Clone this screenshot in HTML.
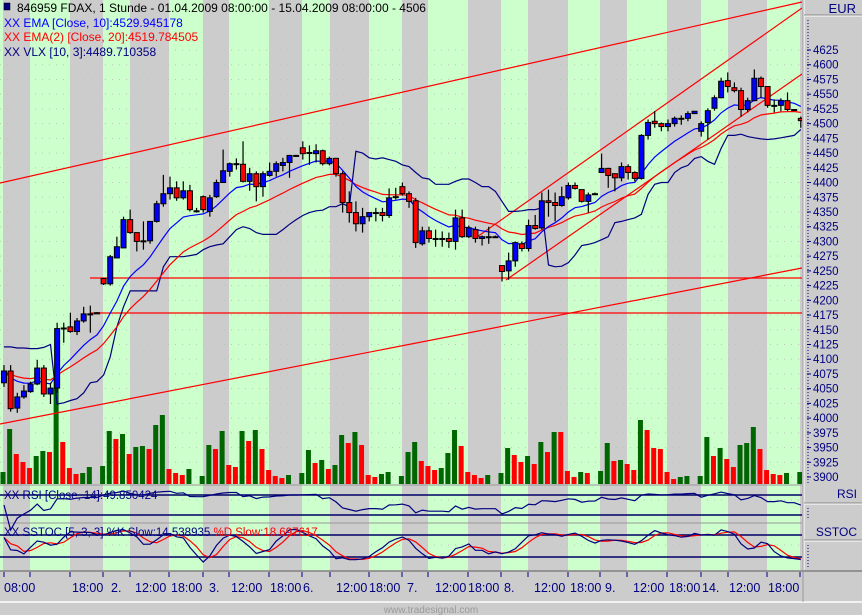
<!DOCTYPE html>
<html><head><meta charset="utf-8">
<style>
html,body{margin:0;padding:0;background:#cccccc;}
svg{display:block;font-family:"Liberation Sans",sans-serif;}
</style></head>
<body>
<svg id="chart" width="862" height="615" xmlns="http://www.w3.org/2000/svg">
<rect x="0" y="0" width="862" height="615" fill="#cccccc"/>
<g id="stripes"></g>
<g id="grid"></g>
<g id="volume"></g>
<g id="lines"></g>
<g id="indic"></g>
<g id="candles"></g>
<g id="panels"></g>
<g id="axis"></g>
<g font-size="12">
 <rect x="4" y="3" width="6" height="7" fill="#000080" stroke="#000" stroke-width="0.5"/>
 <text x="17" y="12" fill="#000">846959  FDAX, 1 Stunde - 01.04.2009 08:00:00 - 15.04.2009 08:00:00 - 4506</text>
 <text x="4" y="27" fill="#0000ff">XX EMA [Close, 10]:4529.945178</text>
 <text x="4" y="41" fill="#ff0000">XX EMA(2) [Close, 20]:4519.784505</text>
 <text x="4" y="56" fill="#000080">XX VLX [10, 3]:4489.710358</text>
</g>
</svg>
<script>
const opens=[4060,4080,4017,4036,4045,4058,4085,4041,4051,4153,4155,4147,4165,4177,4179,4237,4228,4272,4289,4337,4315,4301,4301,4334,4364,4381,4391,4374,4386,4352,4376,4351,4376,4400,4419,4432,4431,4402,4415,4393,4412,4419,4429,4434,4446,4459,4451,4449,4454,4432,4441,4415,4366,4349,4330,4342,4349,4349,4344,4376,4393,4381,4369,4296,4318,4305,4305,4305,4300,4340,4308,4320,4305,4308,4308,4259,4250,4267,4296,4288,4327,4323,4369,4366,4361,4374,4395,4388,4368,4381,4417,4424,4415,4408,4427,4417,4407,4480,4504,4500,4495,4500,4509,4509,4517,4487,4502,4526,4544,4573,4561,4556,4524,4539,4577,4563,4531,4531,4539,4524,4509];
const highs=[4090,4090,4043,4056,4062,4099,4090,4060,4162,4162,4179,4170,4189,4191,4180,4238,4277,4308,4342,4354,4315,4334,4334,4369,4413,4410,4402,4402,4396,4357,4378,4379,4405,4456,4434,4441,4470,4425,4419,4419,4434,4436,4442,4447,4447,4470,4463,4465,4456,4444,4442,4419,4385,4368,4357,4349,4357,4357,4390,4391,4400,4385,4374,4325,4325,4320,4317,4315,4354,4354,4327,4325,4310,4325,4310,4259,4281,4300,4300,4337,4345,4383,4388,4383,4393,4400,4400,4388,4383,4383,4449,4425,4415,4434,4431,4419,4482,4507,4521,4502,4507,4512,4514,4521,4521,4504,4526,4548,4578,4587,4570,4561,4544,4592,4580,4563,4541,4543,4553,4524,4512];
const lows=[4053,4011,4009,4033,4043,4056,4036,4024,4043,4128,4145,4141,4162,4145,4177,4226,4225,4272,4289,4313,4283,4286,4296,4332,4359,4371,4369,4371,4351,4349,4349,4342,4374,4400,4410,4422,4400,4386,4368,4376,4410,4410,4419,4408,4444,4439,4430,4434,4429,4429,4410,4349,4332,4317,4315,4334,4334,4334,4340,4371,4378,4357,4289,4293,4298,4291,4291,4289,4286,4306,4306,4298,4293,4296,4306,4232,4235,4257,4283,4283,4320,4320,4342,4334,4359,4371,4388,4366,4349,4379,4417,4391,4385,4402,4405,4402,4405,4473,4493,4487,4487,4495,4498,4504,4517,4478,4473,4522,4543,4553,4553,4512,4519,4538,4544,4527,4519,4521,4521,4524,4493];
const closes=[4080,4016,4036,4046,4058,4085,4041,4051,4152,4153,4147,4165,4177,4177,4177,4228,4274,4291,4337,4315,4300,4301,4334,4364,4381,4391,4374,4386,4354,4352,4354,4374,4400,4420,4432,4432,4402,4415,4393,4415,4419,4432,4434,4446,4446,4449,4451,4454,4432,4441,4415,4366,4349,4330,4342,4349,4349,4344,4374,4376,4381,4368,4298,4318,4305,4305,4305,4300,4340,4308,4323,4305,4308,4308,4308,4249,4267,4298,4288,4327,4322,4369,4366,4361,4376,4395,4390,4368,4379,4381,4424,4412,4408,4427,4417,4407,4480,4502,4500,4495,4500,4509,4509,4517,4521,4500,4522,4544,4572,4563,4556,4524,4539,4577,4563,4531,4531,4539,4524,4524,4505];
const vlx=[4121,4121,4119,4119,4118,4118,4120,4125,4024,4026,4030,4033,4043,4060,4062,4073,4104,4155,4189,4216,4216,4216,4216,4216,4257,4274,4274,4274,4276,4278,4286,4291,4294,4296,4308,4320,4325,4322,4315,4312,4312,4312,4320,4329,4337,4344,4349,4352,4353,4359,4359,4364,4359,4453,4450,4442,4440,4442,4439,4436,4430,4427,4417,4408,4406,4397,4397,4397,4402,4406,4406,4400,4393,4393,4385,4368,4351,4351,4352,4354,4354,4357,4260,4257,4258,4264,4277,4293,4295,4298,4303,4308,4332,4334,4337,4340,4346,4380,4397,4400,4400,4417,4425,4429,4441,4444,4436,4431,4458,4480,4480,4482,4478,4476,4474,4473,4474,4476,4478,4480,4490];
const volumes=[12,55,30,22,16,28,33,32,104,42,16,10,11,17,0,18,53,45,50,30,37,38,35,59,69,15,11,9,15,0,8,39,35,53,19,17,53,43,54,35,14,8,6,9,0,11,34,21,24,15,19,49,41,52,39,9,7,10,12,0,8,32,42,23,18,14,16,31,54,38,12,9,6,9,0,11,36,29,22,28,20,42,32,52,52,13,7,12,11,0,13,41,23,24,20,14,64,54,36,35,12,5,7,8,0,8,47,28,36,25,17,39,41,57,35,14,10,9,11,0,12];
const volUp=[1,1,0,0,0,1,1,0,1,0,0,0,1,1,1,1,1,0,1,0,1,1,0,1,1,0,0,0,1,1,1,1,0,1,0,0,1,0,1,0,0,0,0,1,1,1,1,0,1,0,1,1,0,1,0,0,0,1,1,1,1,1,1,0,0,0,1,1,1,0,0,0,0,1,1,1,1,0,0,1,0,1,0,1,0,0,0,1,0,1,1,1,0,1,0,0,1,0,0,0,0,0,1,1,1,1,1,0,1,0,0,1,1,1,0,0,0,0,1,1,1];
const priceTicks=[4625,4600,4575,4550,4525,4500,4475,4450,4425,4400,4375,4350,4325,4300,4275,4250,4225,4200,4175,4150,4125,4100,4075,4050,4025,4000,3975,3950,3925,3900];
const timeLabels=["08:00","18:00","2.","12:00","18:00","3.","12:00","18:00","6.","12:00","18:00","7.","12:00","18:00","8.","12:00","18:00","9.","12:00","18:00","14.","12:00","18:00"];
const timeLabelPos=[4,72,111,135,171,209,231,270,303,336,369,407,435,468,504,534,570,605,633,669,702,729,768];
const stripeEdges=[0,3,30,70,103,130,169,203,229,269,302,330,369,402,428,468,501,528,568,600,627,667,701,728,767,800,802];

const NS="http://www.w3.org/2000/svg";
function mk(tag,attrs,parent){const e=document.createElementNS(NS,tag);for(const k in attrs)e.setAttribute(k,attrs[k]);parent.appendChild(e);return e;}
const PLOT_R=802;
const x=i=>4+i*6.64;
const y=p=>50+(4625-p)*0.589;
const vy=v=>484-v;
const rsiY=v=>530-v*0.5;
const stY=v=>564.3-v*0.3667;

// stripes across panels
const st=document.getElementById('stripes');
for(let k=0;k<stripeEdges.length-1;k++){
  const green=(k%2===0);
  const r=mk('rect',{x:stripeEdges[k],y:0,width:stripeEdges[k+1]-stripeEdges[k],height:571,fill:green?'#ccffcc':'#cccccc'},st);
  
  
}
// grid dots
const gr=document.getElementById('grid');
priceTicks.forEach(p=>{
  const l=mk('line',{x1:0,x2:PLOT_R,y1:y(p),y2:y(p),stroke:'#b8c8b8','stroke-dasharray':'1,6','stroke-width':1},gr);
  
  
});
[500,515,545].forEach(yy=>{mk('line',{x1:0,x2:PLOT_R,y1:yy,y2:yy,stroke:'#b8c8b8','stroke-dasharray':'1,6'},gr);});
// volume
const vg=document.getElementById('volume');
volumes.forEach((v,i)=>{
  if(v<=0)return;
  const r=mk('rect',{x:x(i)-3.5,y:vy(v),width:5,height:v,fill:volUp[i]?'#006600':'#ff0000'},vg);
  
  
});
// trend lines
const lg=document.getElementById('lines');
const tl=[[0,183,802,2],[0,424,802,268],[90,278,802,278],[90,313,802,313],[506,280,802,74],[477,237,802,8]];
tl.forEach(t=>{
  const l=mk('line',{x1:t[0],y1:t[1],x2:t[2],y2:t[3],stroke:'#ff0000','stroke-width':1.2},lg);
  
  
});
// indicators
function ema(arr,n){const a=2/(n+1);const out=[];arr.forEach((v,i)=>out.push(i?out[i-1]+a*(v-out[i-1]):v));return out;}
const e10=ema(closes,10), e20=ema(closes,20);
const ig=document.getElementById('indic');
function poly(vals,fy,color,name,parent,w){
  const pts=vals.map((v,i)=>x(i).toFixed(1)+','+fy(v).toFixed(1)).join(' ');
  const p=mk('polyline',{points:pts,fill:'none',stroke:color,'stroke-width':w||1.2},parent);
  
  
}
poly(vlx,y,'#000080','vlx-line',ig);
poly(e20,y,'#ff0000','ema20-line',ig);
poly(e10,y,'#0000ff','ema10-line',ig);
// candles
const cg=document.getElementById('candles');
opens.forEach((o,i)=>{
  const c=closes[i],cx=x(i);
  const w=mk('line',{x1:cx,x2:cx,y1:y(highs[i]),y2:y(lows[i]),stroke:'#000','stroke-width':1.2},cg);
  
  
  const top=y(Math.max(o,c)),bot=y(Math.min(o,c));
  const b=mk('rect',{x:cx-2.5,y:top,width:5,height:Math.max(bot-top,1),fill:c>o?'#0000ff':(c<o?'#ff0000':'#000'),stroke:'#000','stroke-width':1},cg);
  
  
});
// oscillators
const pg=document.getElementById('panels');
function rsi(arr,n){const out=[];let ag=0,al=0;for(let i=0;i<arr.length;i++){if(i===0){out.push(50);continue;}const d=arr[i]-arr[i-1];const g=Math.max(d,0),l=Math.max(-d,0);if(i<=n){ag=(ag*(i-1)+g)/i;al=(al*(i-1)+l)/i;}else{ag=(ag*(n-1)+g)/n;al=(al*(n-1)+l)/n;}out.push(al===0?100:100-100/(1+ag/al));}return out;}
const rs=rsi(closes,14);
function sma(arr,n){return arr.map((v,i)=>{const s=arr.slice(Math.max(0,i-n+1),i+1);return s.reduce((a,b)=>a+b,0)/s.length;});}
const fastK=closes.map((c,i)=>{const s=Math.max(0,i-4);const hh=Math.max(...highs.slice(s,i+1)),ll=Math.min(...lows.slice(s,i+1));return hh===ll?50:(c-ll)/(hh-ll)*100;});
const slowK=sma(fastK,3), slowD=sma(slowK,3);
[[486,521],[524,570]].forEach(r=>{mk('line',{x1:0,x2:862,y1:r[0]-1,y2:r[0]-1,stroke:'#999'},pg);});
[495,515,535,557].forEach(yy=>{
  const l=mk('line',{x1:0,x2:PLOT_R,y1:yy,y2:yy,stroke:'#000066','stroke-width':1.5},pg);
  
  
});
poly(rs,rsiY,'#000080','rsi-line',pg);
poly(slowD,stY,'#ff0000','stoch-d-line',pg);
poly(slowK,stY,'#000080','stoch-k-line',pg);
// axis
const ax=document.getElementById('axis');
mk('rect',{x:802,y:0,width:60,height:571,fill:'#cccccc'},ax);
mk('line',{x1:803,x2:803,y1:0,y2:571,stroke:'#999'},ax);
mk('line',{x1:804,x2:804,y1:0,y2:571,stroke:'#fff'},ax);
mk('line',{x1:804,x2:862,y1:15,y2:15,stroke:'#888'},ax);
mk('line',{x1:804,x2:862,y1:16,y2:16,stroke:'#fff'},ax);
const eur=mk('text',{x:856,y:13,'text-anchor':'end','font-size':13,fill:'#000080'},ax);eur.textContent='EUR';


mk('line',{x1:808,x2:808,y1:20,y2:484,stroke:'#000080','stroke-dasharray':'1,2'},ax);
priceTicks.forEach(p=>{
  mk('line',{x1:807,x2:811,y1:y(p),y2:y(p),stroke:'#000080'},ax);
  const t=mk('text',{x:813,y:y(p)+4,'font-size':11.5,fill:'#000080'},ax);t.textContent=p;
  
  
});
[[486,503,'RSI'],[524,540,'SSTOC']].forEach(b=>{
  mk('line',{x1:804,x2:862,y1:b[1],y2:b[1],stroke:'#888'},ax);
  mk('line',{x1:804,x2:862,y1:b[1]+1,y2:b[1]+1,stroke:'#fff'},ax);
  mk('line',{x1:808,x2:808,y1:b[1]+5,y2:b[0]+(b[2]==='RSI'?34:44),stroke:'#000080','stroke-dasharray':'1,2'},ax);
  const t=mk('text',{x:857,y:b[0]+12,'text-anchor':'end','font-size':12,fill:'#000080'},ax);t.textContent=b[2];
  
  
});
const rl=mk('text',{x:4,y:499,'font-size':11.5,fill:'#000080'},ax);rl.textContent='XX RSI [Close, 14]:49.850424';


const sl=mk('text',{x:4,y:536,'font-size':11.5,fill:'#000080'},ax);


sl.innerHTML='XX SSTOC [5, 3, 3] %K Slow:14.538935 <tspan fill="#ff0000">%D Slow:18.697617</tspan>';
// x axis
mk('line',{x1:0,x2:862,y1:571,y2:571,stroke:'#808080','stroke-width':1.5},ax);
mk('line',{x1:0,x2:862,y1:602,y2:602,stroke:'#ffffff','stroke-width':1.5},ax);
mk('line',{x1:803,x2:803,y1:571,y2:602,stroke:'#999'},ax);
stripeEdges.slice(1,-1).forEach(e=>{if(e>3)mk('line',{x1:e,x2:e,y1:572,y2:577,stroke:'#000080','stroke-width':1},ax);});
mk('line',{x1:4,x2:4,y1:572,y2:577,stroke:'#000080'},ax);
timeLabels.forEach((s,i)=>{
  const t=mk('text',{x:timeLabelPos[i],y:592,'font-size':12.5,fill:'#000080'},ax);t.textContent=s;
  
  
});
const ft=mk('text',{x:431,y:613,'text-anchor':'middle','font-size':10,fill:'#9a9a9a'},ax);ft.textContent='www.tradesignal.com';


</script>
</body></html>
